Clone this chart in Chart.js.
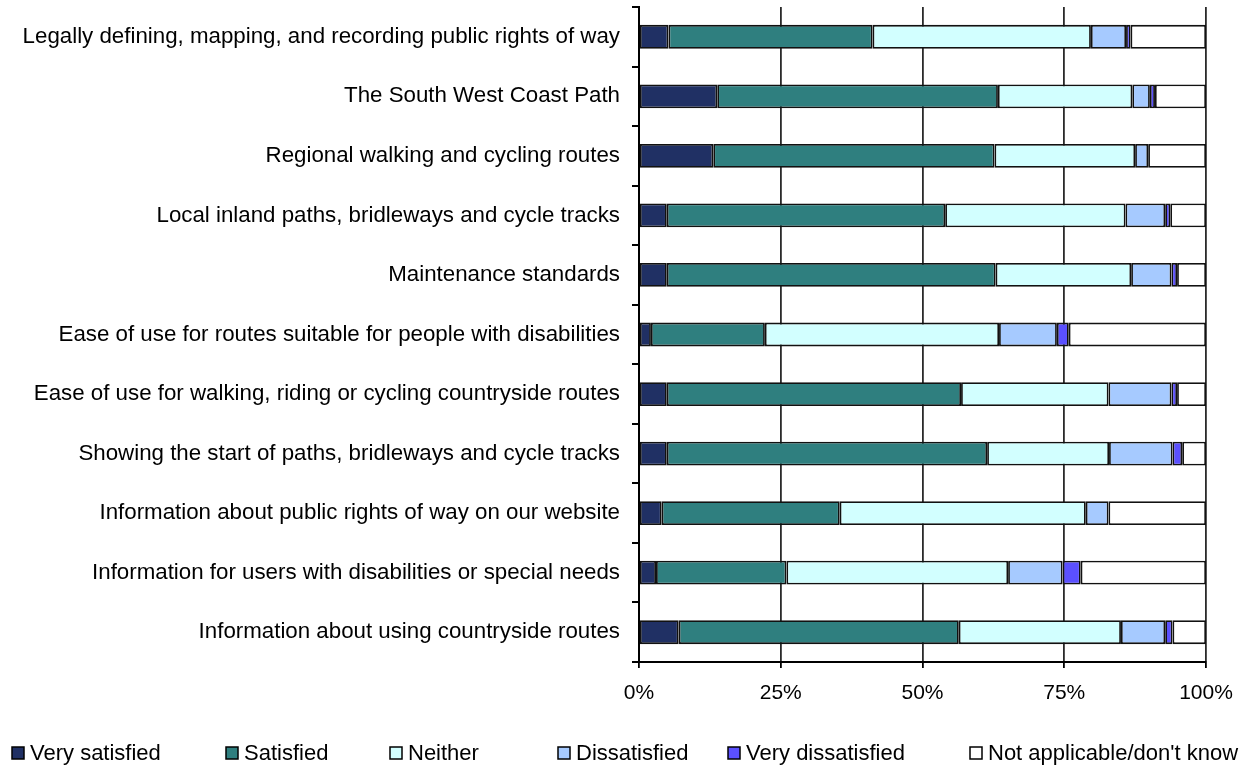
<!DOCTYPE html>
<html>
<head>
<meta charset="utf-8">
<script src="https://cdn.jsdelivr.net/npm/chart.js@4.4.1/dist/chart.umd.min.js"></script>
<style>
  html, body { margin: 0; padding: 0; background: #ffffff; }
  #wrap { width: 1258px; height: 767px; position: relative; }
</style>
</head>
<body>
<div id="wrap"><canvas id="c" width="1258" height="767"></canvas></div>
<script>
const categories = [
  "Legally defining, mapping, and recording public rights of way",
  "The South West Coast Path",
  "Regional walking and cycling routes",
  "Local inland paths, bridleways and cycle tracks",
  "Maintenance standards",
  "Ease of use for routes suitable for people with disabilities",
  "Ease of use for walking, riding or cycling countryside routes",
  "Showing the start of paths, bridleways and cycle tracks",
  "Information about public rights of way on our website",
  "Information for users with disabilities or special needs",
  "Information about using countryside routes"
];
const seriesNames = ["Very satisfied", "Satisfied", "Neither", "Dissatisfied", "Very dissatisfied", "Not applicable/don't know"];
const verySatisfied    = [5.2, 13.8, 13.1, 4.9, 4.9, 2.1, 4.9, 4.9, 4.0, 3.0, 7.0];
const satisfied        = [36.0, 49.5, 49.6, 49.1, 58.0, 20.1, 51.9, 56.5, 31.4, 23.0, 49.4];
const neither          = [38.5, 23.7, 24.8, 31.8, 23.9, 41.3, 26.0, 21.5, 43.4, 39.1, 28.6];
const dissatisfied     = [6.2, 3.1, 2.3, 7.0, 7.1, 10.2, 11.1, 11.2, 4.0, 9.6, 7.8];
const veryDissatisfied = [0.8, 0.9, 0, 0.9, 1.0, 2.1, 1.0, 1.7, 0, 3.2, 1.3];
const notApplicable    = [13.3, 9.0, 10.2, 6.3, 5.1, 24.2, 5.1, 4.2, 17.2, 22.1, 5.9];
const xTicks = [0, 25, 50, 75, 100];

const colors = ["#203064", "#2F7F7F", "#D2FFFF", "#A6CAFF", "#5B50FF", "#FFFFFF"];
const values = [verySatisfied, satisfied, neither, dissatisfied, veryDissatisfied, notApplicable];

const FONT = "'Liberation Sans', Arial, sans-serif";

const datasets = seriesNames.map((name, i) => ({
  label: name,
  data: values[i],
  backgroundColor: colors[i],
  borderColor: "#111111",
  borderWidth: (ctx) => (ctx.raw === 0 ? 0 : 1.8),
  borderSkipped: false,
  categoryPercentage: 1.0,
  barPercentage: 0.40
}));

// Custom legend drawn on the Chart.js canvas, laid out in a single row like the original
const legendRow = {
  id: "legendRow",
  afterDraw(chart, args, opts) {
    const ctx = chart.ctx;
    ctx.save();
    ctx.font = "22px " + FONT;
    ctx.textBaseline = "middle";
    ctx.textAlign = "left";
    const y = opts.y;
    chart.data.datasets.forEach((ds, i) => {
      const bx = opts.boxX[i];
      ctx.fillStyle = ds.backgroundColor;
      ctx.fillRect(bx, y - 6, 12, 12);
      ctx.strokeStyle = "#000000";
      ctx.lineWidth = 1.5;
      ctx.strokeRect(bx, y - 6, 12, 12);
      ctx.fillStyle = "#000000";
      ctx.fillText(ds.label, bx + 18, y + 1);
    });
    ctx.restore();
  }
};

new Chart(document.getElementById("c"), {
  type: "bar",
  data: { labels: categories, datasets },
  plugins: [legendRow],
  options: {
    indexAxis: "y",
    responsive: false,
    animation: false,
    devicePixelRatio: 1,
    layout: { padding: { top: 7, right: 52, left: 0, bottom: 49 } },
    plugins: {
      tooltip: { enabled: false },
      legend: { display: false },
      legendRow: { y: 753, boxX: [12, 226, 390, 558, 728, 970] }
    },
    scales: {
      x: {
        stacked: true,
        min: 0,
        max: 100,
        afterBuildTicks: (axis) => { axis.ticks = xTicks.map(v => ({ value: v })); },
        afterFit: (axis) => { axis.height = 56; },
        ticks: {
          color: "#000000",
          font: { family: FONT, size: 21 },
          padding: 13,
          callback: (v) => v + "%"
        },
        grid: {
          color: "#2a2a2a",
          lineWidth: 1.8,
          drawTicks: true,
          tickLength: 6,
          tickColor: "#000000"
        },
        border: { color: "#000000", width: 2 }
      },
      y: {
        stacked: true,
        afterFit: (axis) => { axis.width = 639; axis.paddingTop = 0; axis.paddingBottom = 0; },
        ticks: {
          color: "#000000",
          font: { family: FONT, size: 22.3 },
          padding: 12
        },
        grid: {
          offset: true,
          drawOnChartArea: false,
          drawTicks: true,
          tickLength: 7,
          color: "#000000",
          lineWidth: 2
        },
        border: { color: "#000000", width: 2 }
      }
    }
  }
});
</script>
</body>
</html>
